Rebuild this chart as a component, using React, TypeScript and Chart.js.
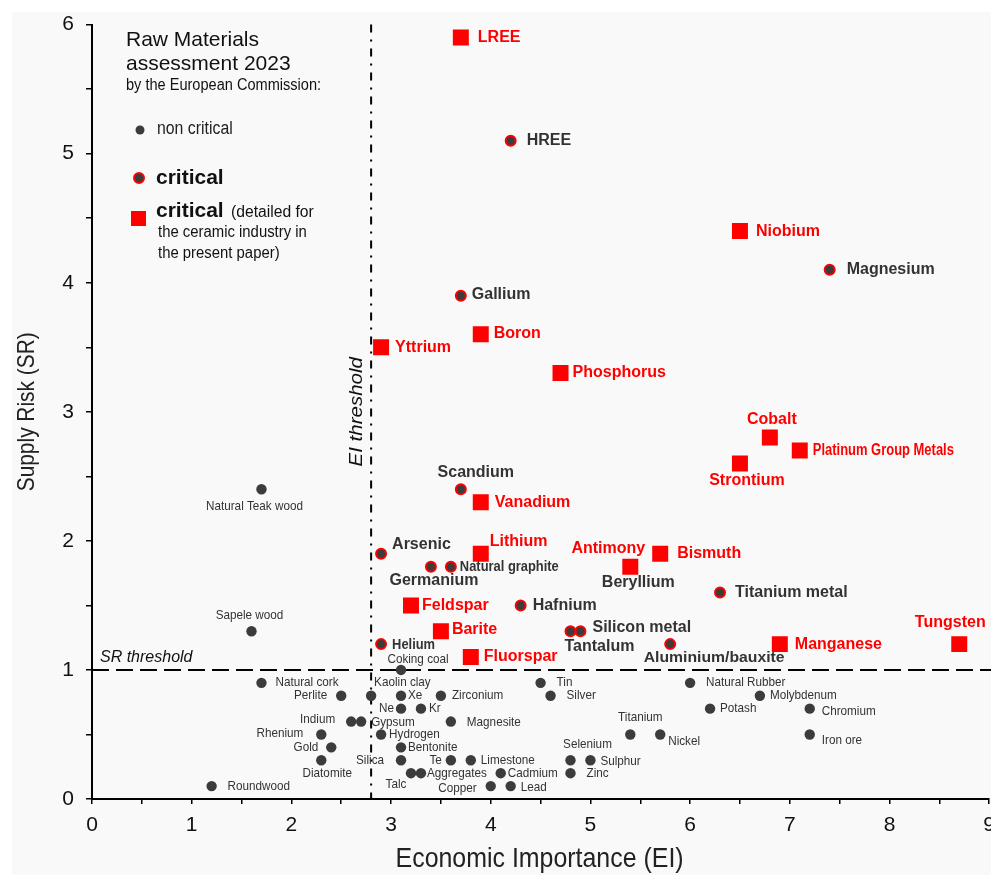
import React, { useEffect, useRef } from 'react';
import { Chart, registerables } from 'chart.js';

Chart.register(...registerables);

// ---------- data ----------
const detailedNames = ['LREE', 'Niobium', 'Boron', 'Yttrium', 'Phosphorus', 'Cobalt', 'Platinum Group Metals', 'Strontium', 'Vanadium', 'Lithium', 'Antimony', 'Bismuth', 'Feldspar', 'Barite', 'Fluorspar', 'Manganese', 'Tungsten'];
const detailedEI = [3.7, 6.5, 3.9, 2.9, 4.7, 6.8, 7.1, 6.5, 3.9, 3.9, 5.4, 5.7, 3.2, 3.5, 3.8, 6.9, 8.7];
const detailedSR = [5.9, 4.4, 3.6, 3.5, 3.3, 2.8, 2.7, 2.6, 2.3, 1.9, 1.8, 1.9, 1.5, 1.3, 1.1, 1.2, 1.2];

const criticalNames = ['HREE', 'Magnesium', 'Gallium', 'Scandium', 'Arsenic', 'Germanium', 'Natural graphite', 'Beryllium', 'Hafnium', 'Tantalum', 'Silicon metal', 'Helium', 'Aluminium/bauxite', 'Titanium metal'];
const criticalEI = [4.2, 7.4, 3.7, 3.7, 2.9, 3.4, 3.6, 5.4, 4.3, 4.8, 4.9, 2.9, 5.8, 6.3];
const criticalSR = [5.1, 4.1, 3.9, 2.4, 1.9, 1.8, 1.8, 1.8, 1.5, 1.3, 1.3, 1.2, 1.2, 1.6];

const nonCriticalNames = ['Natural Teak wood', 'Sapele wood', 'Coking coal', 'Natural cork', 'Perlite', 'Kaolin clay', 'Xe', 'Zirconium', 'Tin', 'Silver', 'Natural Rubber', 'Molybdenum', 'Ne', 'Kr', 'Potash', 'Chromium', 'Indium', 'Gypsum', 'Magnesite', 'Rhenium', 'Hydrogen', 'Titanium', 'Nickel', 'Iron ore', 'Gold', 'Bentonite', 'Diatomite', 'Silica', 'Te', 'Limestone', 'Selenium', 'Sulphur', 'Talc', 'Aggregates', 'Cadmium', 'Zinc', 'Roundwood', 'Copper', 'Lead'];
const nonCriticalEI = [1.7, 1.6, 3.1, 1.7, 2.5, 2.8, 3.1, 3.5, 4.5, 4.6, 6.0, 6.7, 3.1, 3.3, 6.2, 7.2, 2.6, 2.7, 3.6, 2.3, 2.9, 5.4, 5.7, 7.2, 2.4, 3.1, 2.3, 3.1, 3.6, 3.8, 4.8, 5.0, 3.2, 3.3, 4.1, 4.8, 1.2, 4.0, 4.2];
const nonCriticalSR = [2.4, 1.3, 1.0, 0.9, 0.8, 0.8, 0.8, 0.8, 0.9, 0.8, 0.9, 0.8, 0.7, 0.7, 0.7, 0.7, 0.6, 0.6, 0.6, 0.5, 0.5, 0.5, 0.5, 0.5, 0.4, 0.4, 0.3, 0.3, 0.3, 0.3, 0.3, 0.3, 0.2, 0.2, 0.2, 0.2, 0.1, 0.1, 0.1];

const xTickValues = [0, 1, 2, 3, 4, 5, 6, 7, 8, 9];
const yTickValues = [0, 1, 2, 3, 4, 5, 6];
const srThreshold = 1;
const eiThreshold = 2.8;
const xTitle = 'Economic Importance (EI)';
const yTitle = 'Supply Risk (SR)';

// ---------- label placement (offsets from the marker, in px) ----------
type LStyle = 'red' | 'redN' | 'dark' | 'darkN' | 'darkN2' | 'small';
const labelPlace: Record<string, [number, number, CanvasTextAlign, LStyle]> = {
  'LREE': [17, 0, 'left', 'red'],
  'Niobium': [16, 0, 'left', 'red'],
  'Boron': [13, -1, 'left', 'red'],
  'Yttrium': [14, 0, 'left', 'red'],
  'Phosphorus': [12, 0, 'left', 'red'],
  'Cobalt': [2, -18, 'center', 'red'],
  'Platinum Group Metals': [13, 0, 'left', 'redN'],
  'Strontium': [7, 17, 'center', 'red'],
  'Vanadium': [14, 0, 'left', 'red'],
  'Lithium': [9, -12, 'left', 'red'],
  'Antimony': [-22, -18, 'center', 'red'],
  'Bismuth': [17, 0, 'left', 'red'],
  'Feldspar': [11, 0, 'left', 'red'],
  'Barite': [11, -2, 'left', 'red'],
  'Fluorspar': [13, 0, 'left', 'red'],
  'Manganese': [15, 0, 'left', 'red'],
  'Tungsten': [-9, -22, 'center', 'red'],
  'HREE': [16, 0, 'left', 'dark'],
  'Magnesium': [17, 0, 'left', 'dark'],
  'Gallium': [11, -1, 'left', 'dark'],
  'Scandium': [15, -17, 'center', 'dark'],
  'Arsenic': [11, -9, 'left', 'dark'],
  'Germanium': [3, 14, 'center', 'dark'],
  'Natural graphite': [9, 0, 'left', 'darkN'],
  'Beryllium': [8, 16, 'center', 'dark'],
  'Hafnium': [12, 0, 'left', 'dark'],
  'Tantalum': [29, 15, 'center', 'dark'],
  'Silicon metal': [12, -4, 'left', 'dark'],
  'Helium': [11, 1, 'left', 'darkN'],
  'Aluminium/bauxite': [44, 14, 'center', 'darkN2'],
  'Titanium metal': [15, 0, 'left', 'dark'],
  'Natural Teak wood': [-7, 17, 'center', 'small'],
  'Sapele wood': [-2, -16, 'center', 'small'],
  'Coking coal': [17, -11, 'center', 'small'],
  'Natural cork': [14, 0, 'left', 'small'],
  'Perlite': [-14, 0, 'right', 'small'],
  'Kaolin clay': [3, -13, 'left', 'small'],
  'Xe': [7, 0, 'left', 'small'],
  'Zirconium': [11, 0, 'left', 'small'],
  'Tin': [16, 0, 'left', 'small'],
  'Silver': [16, 0, 'left', 'small'],
  'Natural Rubber': [16, 0, 'left', 'small'],
  'Molybdenum': [10, 0, 'left', 'small'],
  'Ne': [-7, 0, 'right', 'small'],
  'Kr': [8, 0, 'left', 'small'],
  'Potash': [10, 0, 'left', 'small'],
  'Chromium': [12, 3, 'left', 'small'],
  'Indium': [-16, -2, 'right', 'small'],
  'Gypsum': [10, 1, 'left', 'small'],
  'Magnesite': [16, 1, 'left', 'small'],
  'Rhenium': [-18, -1, 'right', 'small'],
  'Hydrogen': [8, 0, 'left', 'small'],
  'Titanium': [10, -17, 'center', 'small'],
  'Nickel': [8, 7, 'left', 'small'],
  'Iron ore': [12, 6, 'left', 'small'],
  'Gold': [-13, 0, 'right', 'small'],
  'Bentonite': [7, 0, 'left', 'small'],
  'Diatomite': [6, 13, 'center', 'small'],
  'Silica': [-17, 0, 'right', 'small'],
  'Te': [-9, 0, 'right', 'small'],
  'Limestone': [10, 0, 'left', 'small'],
  'Selenium': [17, -16, 'center', 'small'],
  'Sulphur': [10, 1, 'left', 'small'],
  'Talc': [-15, 11, 'center', 'small'],
  'Aggregates': [6, 0, 'left', 'small'],
  'Cadmium': [7, 0, 'left', 'small'],
  'Zinc': [16, 0, 'left', 'small'],
  'Roundwood': [16, 0, 'left', 'small'],
  'Copper': [-14, 2, 'right', 'small'],
  'Lead': [10, 1, 'left', 'small'],
};

const RED = '#ff0000';
const DARK = '#3c3c3c';
const TEXT = '#333333';
const FAM = '"Liberation Sans", Arial, Helvetica, sans-serif';

const styleDefs: Record<LStyle, { size: number; weight: string; color: string; sx: number }> = {
  red: { size: 16, weight: 'bold', color: RED, sx: 1 },
  redN: { size: 16, weight: 'bold', color: RED, sx: 0.81 },
  dark: { size: 16, weight: 'bold', color: TEXT, sx: 1 },
  darkN: { size: 15, weight: 'bold', color: TEXT, sx: 0.86 },
  darkN2: { size: 15, weight: 'bold', color: TEXT, sx: 1.05 },
  small: { size: 13, weight: 'normal', color: TEXT, sx: 0.9 },
};

function drawText(
  ctx: CanvasRenderingContext2D,
  text: string,
  x: number,
  y: number,
  o: { size: number; weight?: string; italic?: boolean; color: string; align?: CanvasTextAlign; sx?: number; rot?: number }
) {
  ctx.save();
  ctx.font = `${o.italic ? 'italic ' : ''}${o.weight || 'normal'} ${o.size}px ${FAM}`;
  ctx.fillStyle = o.color;
  ctx.textBaseline = 'middle';
  ctx.textAlign = o.align || 'left';
  ctx.translate(x, y);
  if (o.rot) ctx.rotate(o.rot);
  ctx.scale(o.sx || 1, 1);
  ctx.fillText(text, 0, 0);
  ctx.restore();
}

const toPoints = (xs: number[], ys: number[]) => xs.map((x, i) => ({ x, y: ys[i] }));

const bgPlugin = {
  id: 'bg',
  beforeDraw(chart: any) {
    const ctx = chart.ctx as CanvasRenderingContext2D;
    ctx.save();
    ctx.fillStyle = '#ffffff';
    ctx.fillRect(0, 0, chart.width, chart.height);
    ctx.fillStyle = '#f9f9f9';
    ctx.fillRect(12, 12, chart.width - 12, chart.height - 12);
    ctx.restore();
  },
};

const thresholdPlugin = {
  id: 'thresholds',
  beforeDatasetsDraw(chart: any) {
    const ctx = chart.ctx as CanvasRenderingContext2D;
    const xs = chart.scales.x;
    const ys = chart.scales.y;
    const area = chart.chartArea;
    const yPix = ys.getPixelForValue(srThreshold);
    const xPix = xs.getPixelForValue(eiThreshold);
    ctx.save();
    ctx.strokeStyle = '#000';
    ctx.lineWidth = 2;
    ctx.setLineDash([17, 7]);
    ctx.beginPath();
    ctx.moveTo(area.left, yPix);
    ctx.lineTo(chart.width, yPix);
    ctx.stroke();
    ctx.setLineDash([8, 7, 2, 7]);
    ctx.beginPath();
    ctx.moveTo(xPix, area.top);
    ctx.lineTo(xPix, area.bottom);
    ctx.stroke();
    ctx.restore();
    drawText(ctx, 'SR threshold', area.left + 8, yPix - 12, { size: 16, italic: true, color: '#111', sx: 1.0 });
    drawText(ctx, 'EI threshold', xPix - 14, (area.top + area.bottom) / 2, { size: 19, italic: true, color: '#111', align: 'center', rot: -Math.PI / 2, sx: 1.08 });

    // axis titles
    drawText(ctx, xTitle, (area.left + area.right) / 2 - 1, chart.height - 16, { size: 28, color: '#222', align: 'center', sx: 0.89 });
    drawText(ctx, yTitle, 27, (area.top + area.bottom) / 2, { size: 24, color: '#222', align: 'center', rot: -Math.PI / 2, sx: 0.87 });
  },
  afterDatasetsDraw(chart: any) {
    const ctx = chart.ctx as CanvasRenderingContext2D;
    chart.data.datasets.forEach((ds: any, di: number) => {
      const meta = chart.getDatasetMeta(di);
      ds.names.forEach((name: string, j: number) => {
        const pl = labelPlace[name];
        const el = meta.data[j];
        if (!pl || !el) return;
        const st = styleDefs[pl[3]];
        drawText(ctx, name, el.x + pl[0], el.y + pl[1], { size: st.size, weight: st.weight, color: st.color, align: pl[2], sx: st.sx });
      });
    });

    // legend (custom, top-left)
    drawText(ctx, 'Raw Materials', 126, 40, { size: 21, color: '#111' });
    drawText(ctx, 'assessment 2023', 126, 64, { size: 21, color: '#111' });
    drawText(ctx, 'by the European Commission:', 126, 86, { size: 16, color: '#111', sx: 0.91 });

    ctx.save();
    ctx.fillStyle = DARK;
    ctx.beginPath();
    ctx.arc(140, 130, 4.5, 0, Math.PI * 2);
    ctx.fill();
    ctx.beginPath();
    ctx.arc(139, 178, 5, 0, Math.PI * 2);
    ctx.fill();
    ctx.strokeStyle = RED;
    ctx.lineWidth = 2;
    ctx.stroke();
    ctx.fillStyle = RED;
    ctx.fillRect(131, 211, 15, 15);
    ctx.restore();

    drawText(ctx, 'non critical', 157, 129, { size: 18, color: '#222', sx: 0.88 });
    drawText(ctx, 'critical', 156, 178, { size: 21, weight: 'bold', color: '#111' });
    drawText(ctx, 'critical', 156, 211, { size: 21, weight: 'bold', color: '#111' });
    drawText(ctx, '(detailed for', 231, 213, { size: 16, color: '#111', sx: 0.98 });
    drawText(ctx, 'the ceramic industry in', 158, 233, { size: 16, color: '#111', sx: 0.93 });
    drawText(ctx, 'the present paper)', 158, 254, { size: 16, color: '#111', sx: 0.93 });
  },
};

export default function App() {
  const ref = useRef<HTMLCanvasElement>(null);
  useEffect(() => {
    if (!ref.current) return;
    const chart = new Chart(ref.current, {
      type: 'scatter',
      data: {
        datasets: [
          {
            label: 'critical (detailed)',
            names: detailedNames,
            data: toPoints(detailedEI, detailedSR),
            pointStyle: 'rect',
            pointRadius: 11.3,
            backgroundColor: RED,
            borderWidth: 0,
            order: 0,
          } as any,
          {
            label: 'critical',
            names: criticalNames,
            data: toPoints(criticalEI, criticalSR),
            pointStyle: 'circle',
            pointRadius: 5,
            backgroundColor: DARK,
            borderColor: RED,
            borderWidth: 2,
            order: 1,
          } as any,
          {
            label: 'non critical',
            names: nonCriticalNames,
            data: toPoints(nonCriticalEI, nonCriticalSR),
            pointStyle: 'circle',
            pointRadius: 5.2,
            backgroundColor: DARK,
            borderWidth: 0,
            order: 2,
          } as any,
        ],
      },
      options: {
        animation: false,
        responsive: false,
        devicePixelRatio: 1,
        layout: { padding: { left: 0, top: 22, right: 11, bottom: 0 } },
        plugins: { legend: { display: false }, tooltip: { enabled: false } },
        scales: {
          x: {
            type: 'linear',
            min: 0,
            max: 9,
            afterFit: (s: any) => { s.height = 76; },
            afterBuildTicks: (s: any) => {
              const t: any[] = [];
              xTickValues.forEach((v, i) => { t.push({ value: v }); if (i < xTickValues.length - 1) t.push({ value: v + 0.5 }); });
              s.ticks = t;
            },
            ticks: {
              autoSkip: false,
              maxRotation: 0,
              padding: 9,
              color: '#111',
              font: { family: FAM, size: 21 },
              callback: (v: any) => (xTickValues.includes(Number(v)) ? String(v) : ''),
            },
            grid: { display: true, drawOnChartArea: false, drawTicks: true, tickLength: 5, color: '#000', lineWidth: 1.5 },
            border: { display: true, color: '#000', width: 2 },
          },
          y: {
            type: 'linear',
            min: 0,
            max: 6,
            afterFit: (s: any) => { s.width = 92; },
            afterBuildTicks: (s: any) => {
              const t: any[] = [];
              yTickValues.forEach((v, i) => { t.push({ value: v }); if (i < yTickValues.length - 1) t.push({ value: v + 0.5 }); });
              s.ticks = t;
            },
            ticks: {
              autoSkip: false,
              padding: 12,
              color: '#111',
              font: { family: FAM, size: 21 },
              callback: (v: any) => (yTickValues.includes(Number(v)) ? String(v) : ''),
            },
            grid: { display: true, drawOnChartArea: false, drawTicks: true, tickLength: 6, color: '#000', lineWidth: 1.5 },
            border: { display: true, color: '#000', width: 2 },
          },
        },
      },
      plugins: [bgPlugin, thresholdPlugin],
    } as any);
    return () => chart.destroy();
  }, []);

  return (
    <div style={{ position: 'fixed', left: 0, top: 0, width: 991, height: 875, overflow: 'hidden', background: '#fff' }}>
      <canvas ref={ref} width={1004} height={875} style={{ display: 'block', width: 1004, height: 875 }} />
    </div>
  );
}
